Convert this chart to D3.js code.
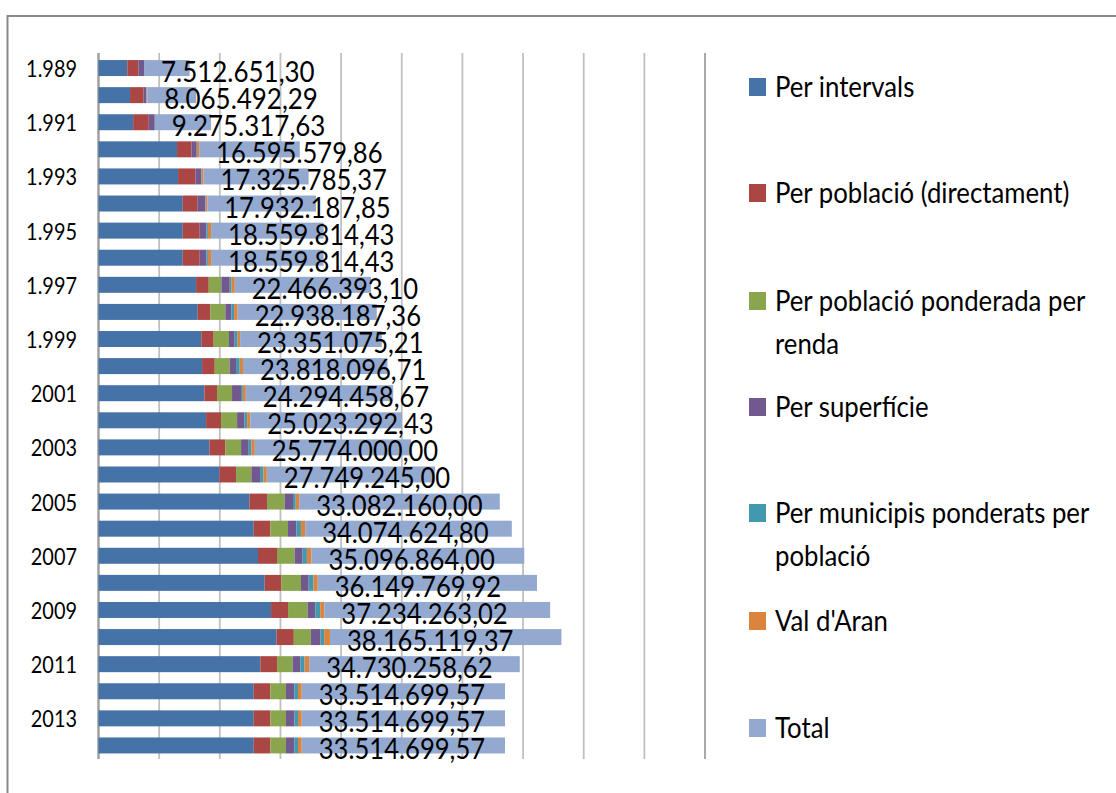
<html>
<head>
<script src="https://d3js.org/d3.v7.min.js"></script>
<style>
body { margin: 0; background: #fff; }
text { font-family: Lato, 'Open Sans', sans-serif; fill: #000; }
</style>
</head>
<body>
<svg id="chart"></svg>
<script>

var width = 1116;
var height = 793;

// years and the axis labels that Excel showed (every other year)
var years = [1989, 1990, 1991, 1992, 1993, 1994, 1995, 1996, 1997, 1998, 1999, 2000, 2001,
	2002, 2003, 2004, 2005, 2006, 2007, 2008, 2009, 2010, 2011, 2012, 2013, 2014];
var yearLabels = ["1.989", "", "1.991", "", "1.993", "", "1.995", "", "1.997", "", "1.999", "", "2001",
	"", "2003", "", "2005", "", "2007", "", "2009", "", "2011", "", "2013", ""];

// components, in millions of euros
var perIntervals = [4.75, 5.20, 5.71, 12.95, 13.12, 13.89, 13.89, 13.89, 16.09, 16.36, 16.95, 17.08, 17.46,
	17.74, 18.29, 19.93, 24.88, 25.59, 26.30, 27.40, 28.45, 29.35, 26.69, 25.59, 25.59, 25.59];
var perPoblacio = [1.82, 2.25, 2.58, 2.37, 2.86, 2.47, 2.80, 2.80, 2.09, 2.09, 2.04, 2.09, 2.09,
	2.47, 2.64, 2.75, 2.91, 2.75, 3.13, 2.75, 2.80, 2.85, 2.75, 2.75, 2.75, 2.75];
var perRenda = [0, 0, 0, 0, 0, 0, 0, 0, 2.08, 2.47, 2.52, 2.47, 2.47,
	2.64, 2.58, 2.53, 2.91, 2.91, 2.91, 3.24, 3.24, 2.80, 2.58, 2.58, 2.58, 2.58];
var perSuperficie = [0.94, 0.45, 0.99, 0.87, 0.99, 1.27, 1.10, 1.10, 1.38, 0.99, 0.94, 1.04, 1.48,
	1.21, 1.26, 1.43, 1.37, 1.37, 1.32, 1.26, 1.26, 1.60, 1.26, 1.37, 1.37, 1.37];
var perMunicipis = [0, 0.05, 0, 0.05, 0.05, 0.05, 0.25, 0.25, 0.30, 0.45, 0.50, 0.60, 0.30,
	0.45, 0.45, 0.55, 0.45, 0.75, 0.70, 0.80, 0.80, 0.60, 0.70, 0.60, 0.60, 0.60];
var valDAran = [0, 0.10, 0, 0.35, 0.30, 0.25, 0.52, 0.52, 0.53, 0.58, 0.40, 0.54, 0.49,
	0.51, 0.55, 0.56, 0.56, 0.70, 0.74, 0.70, 0.68, 0.96, 0.75, 0.62, 0.62, 0.62];
// totals as labelled, in euros
var totals = [7512651.30, 8065492.29, 9275317.63, 16595579.86, 17325785.37, 17932187.85, 18559814.43,
	18559814.43, 22466393.10, 22938187.36, 23351075.21, 23818096.71, 24294458.67, 25023292.43,
	25774000.00, 27749245.00, 33082160.00, 34074624.80, 35096864.00, 36149769.92, 37234263.02,
	38165119.37, 34730258.62, 33514699.57, 33514699.57, 33514699.57];

var seriesNames = ["Per intervals", "Per població (directament)", "Per població ponderada per renda",
	"Per superfície", "Per municipis ponderats per població", "Val d'Aran", "Total"];
var seriesColors = ["#4572A7", "#AA4643", "#89A54E", "#71588F", "#4198AF", "#DB843D", "#93A9CF"];
// legend text split into lines as wrapped in the picture
var legendLines = [["Per intervals"], ["Per població (directament)"], ["Per població ponderada  per", "renda"],
	["Per superfície"], ["Per municipis ponderats per", "població"], ["Val d'Aran"], ["Total"]];
var legendY = [87, 193, 301, 407, 513, 621, 728];

var keys = ["k0", "k1", "k2", "k3", "k4", "k5", "k6"];
var rows = years.map(function (y, i) {
	return { year: y, k0: perIntervals[i] * 1e6, k1: perPoblacio[i] * 1e6, k2: perRenda[i] * 1e6,
		k3: perSuperficie[i] * 1e6, k4: perMunicipis[i] * 1e6, k5: valDAran[i] * 1e6, k6: totals[i] };
});

var svg = d3.select("#chart").attr("width", width).attr("height", height);
svg.append("rect").attr("width", width).attr("height", height).attr("fill", "#fff");

// chart frame
svg.append("rect").attr("x", 7.5).attr("y", 16).attr("width", 1200).attr("height", 900)
	.attr("fill", "none").attr("stroke", "#8a8a8a").attr("stroke-width", 2);

var xScale = d3.scaleLinear().domain([0, 100e6]).range([98.5, 705]);
var yScale = d3.scaleBand().domain(years).range([54.5, 759]).paddingInner(0.41).paddingOuter(0.205);

// gridlines
svg.append("g").selectAll("line").data(xScale.ticks(10)).enter().append("line")
	.attr("x1", function (d) { return xScale(d); })
	.attr("x2", function (d) { return xScale(d); })
	.attr("y1", 53).attr("y2", 759)
	.attr("stroke", function (d, i) { return (i == 0 || i == 10) ? "#a0a0a0" : "#c0c0c0"; })
	.attr("stroke-width", function (d, i) { return i == 0 ? 2.5 : 1.8; });

var stack = d3.stack().keys(keys);
var series = stack(rows);

svg.append("g").selectAll("g").data(series).enter().append("g")
	.attr("fill", function (d, i) { return seriesColors[i]; })
	.selectAll("rect").data(function (d) { return d; }).enter().append("rect")
	.attr("x", function (d) { return xScale(d[0]); })
	.attr("width", function (d) { return xScale(d[1]) - xScale(d[0]); })
	.attr("y", function (d) { return yScale(d.data.year); })
	.attr("height", yScale.bandwidth());

// year labels
svg.append("g").selectAll("text").data(years).enter().append("text")
	.attr("transform", function (d) {
		return "translate(77," + (yScale(d) + yScale.bandwidth() / 2 + 9) + ") scale(0.83,1)";
	})
	.attr("text-anchor", "end").attr("font-size", 24)
	.text(function (d, i) { return yearLabels[i]; });

// value labels (total), placed just inside the start of the Total segment
var loc = d3.formatLocale({ decimal: ",", thousands: ".", grouping: [3], currency: ["", ""] });
var fmt = loc.format(",.2f");
var totalSeries = series[6];
svg.append("g").selectAll("text").data(totalSeries).enter().append("text")
	.attr("x", function (d) { return xScale(d[0]) + 17; })
	.attr("y", function (d) { return yScale(d.data.year) + yScale.bandwidth() / 2 + 14; })
	.attr("font-size", 28)
	.attr("textLength", function (d) { return fmt(d.data.k6).length * 12.8; })
	.attr("lengthAdjust", "spacingAndGlyphs")
	.text(function (d) { return fmt(d.data.k6); });

// legend
var legend = svg.append("g").selectAll("g").data(seriesNames).enter().append("g")
	.attr("transform", function (d, i) { return "translate(749," + legendY[i] + ")"; });
legend.append("rect").attr("x", 0).attr("y", -9).attr("width", 17).attr("height", 18)
	.attr("fill", function (d, i) { return seriesColors[i]; });
legend.each(function (d, i) {
	var g = d3.select(this);
	legendLines[i].forEach(function (line, j) {
		g.append("text")
			.attr("transform", "translate(26," + (10 + j * 43) + ") scale(0.92,1)")
			.attr("font-size", 28)
			.text(line);
	});
});

</script>
</body>
</html>
